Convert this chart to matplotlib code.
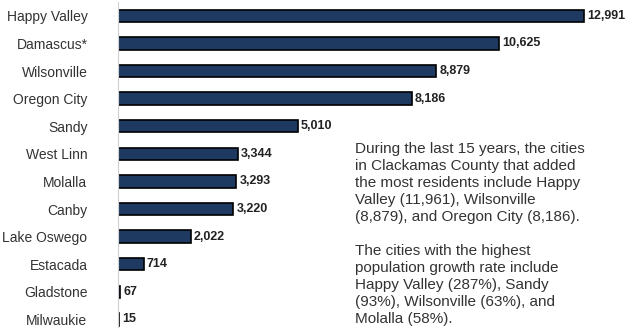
import matplotlib.pyplot as plt

plt.rcParams["font.family"] = ["Liberation Sans", "DejaVu Sans"]

# data
cities = ["Happy Valley", "Damascus*", "Wilsonville", "Oregon City", "Sandy",
          "West Linn", "Molalla", "Canby", "Lake Oswego", "Estacada",
          "Gladstone", "Milwaukie"]
added = [12991, 10625, 8879, 8186, 5010, 3344, 3293, 3220, 2022, 714, 67, 15]

note = ("During the last 15 years, the cities\n"
        "in Clackamas County that added\n"
        "the most residents include Happy\n"
        "Valley (11,961), Wilsonville\n"
        "(8,879), and Oregon City (8,186).\n"
        "\n"
        "The cities with the highest\n"
        "population growth rate include\n"
        "Happy Valley (287%), Sandy\n"
        "(93%), Wilsonville (63%), and\n"
        "Molalla (58%).")

fig = plt.figure(figsize=(6.28, 3.28), dpi=100)
ax = fig.add_axes([118 / 628, 0.0, 502 / 628, 326 / 328])

ypos = list(range(len(cities)))
ax.barh(ypos, added, height=0.45, color="#1f3a60", edgecolor="black", linewidth=1.2)

for y, v in zip(ypos, added):
    ax.text(v + 90, y, f"{v:,}", va="center", ha="left",
            fontsize=9, fontweight="bold", color="#222222")

ax.set_xlim(0, 14000)
ax.set_ylim(11.31, -0.5)
ax.set_yticks(ypos)
ax.set_yticklabels(cities, fontsize=10, color="#333333")
ax.tick_params(axis="y", length=0, pad=22)
ax.set_xticks([])

for s in ["top", "right", "bottom"]:
    ax.spines[s].set_visible(False)
ax.spines["left"].set_color("#d0d0d0")
ax.spines["left"].set_linewidth(0.8)

fig.text(355 / 628, 1 - 142 / 328, note, ha="left", va="top",
         fontsize=11, linespacing=1.27, color="#333333")

fig.savefig("out.png", dpi=100)
